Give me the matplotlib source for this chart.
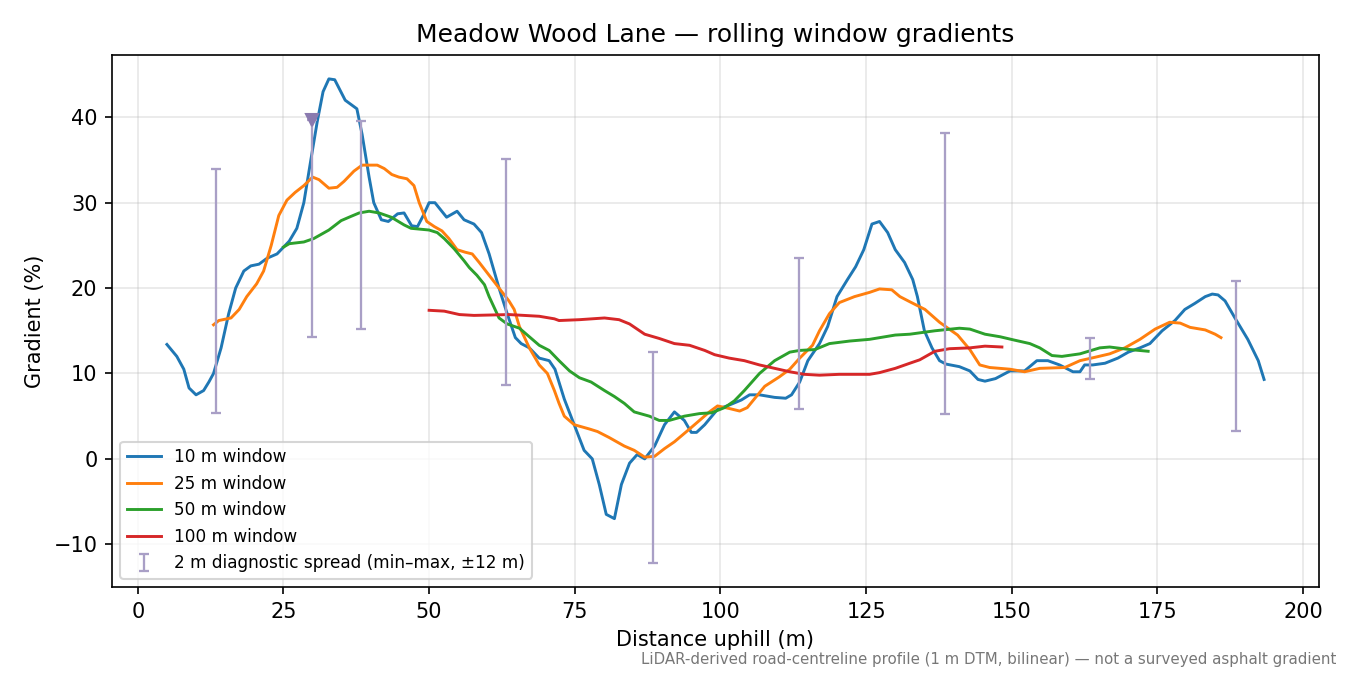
import numpy as np
import matplotlib
matplotlib.use("Agg")
import matplotlib.pyplot as plt

# 10 m window
x10 = [5, 6.7, 7.9, 8.8, 10, 11.3, 12.2, 13, 14.3, 15.6, 16.8, 18.2, 19.4, 20.8, 22.2, 23.9,
       26, 27.3, 28.5, 29.7, 30.8, 31.8, 32.8, 33.8, 35.6, 37.6, 38.5, 39.7, 40.5, 41.8, 43,
       44.6, 45.7, 47, 48, 49, 50, 51, 53, 54.8, 56, 57.7, 59, 60.3, 62, 63.4, 64.8, 65.8,
       67.2, 68.9, 70.6, 71.6, 73.2, 74.9, 76.6, 78, 79.2, 80.4, 81.8, 83, 84.4, 85.7, 87,
       88.7, 90.4, 92.1, 93.8, 95, 95.9, 97.3, 99.5, 101.5, 103.6, 105, 106.7, 109.3, 111.2,
       112.2, 113.6, 115, 117, 118.4, 120, 121.8, 123.2, 124.6, 126, 127.3, 128.7, 130,
       131.6, 133, 133.8, 135, 136.3, 137.6, 138.7, 141, 142.8, 144.2, 145.4, 147.2, 149.7,
       152.2, 154.3, 156.2, 158.2, 160.5, 161.7, 162.5, 163.9, 166, 168.2, 170, 172, 173.7,
       175.8, 178, 179.7, 181.4, 183.2, 184.4, 185.4, 186.6, 188.3, 190.5, 192.3, 193.3]
g10 = [13.4, 12, 10.5, 8.3, 7.5, 8.0, 9.0, 10, 13, 17, 20, 22, 22.6, 22.8, 23.5, 24,
       25.5, 27, 30, 35, 39.5, 43, 44.5, 44.4, 42, 41, 38, 33, 30, 28, 27.8,
       28.7, 28.8, 27.3, 27.2, 28.5, 30, 30, 28.3, 29, 28, 27.5, 26.5, 24, 20, 17, 14.2, 13.5,
       13, 11.8, 11.5, 10.5, 7, 4, 1, 0, -3, -6.5, -7, -3, -0.5, 0.5, 0,
       1.5, 4, 5.5, 4.5, 3.1, 3.1, 4, 5.8, 6.3, 6.9, 7.5, 7.5, 7.2, 7.1,
       7.5, 9, 11.5, 13.5, 15.5, 19, 21, 22.5, 24.5, 27.5, 27.8, 26.5, 24.5,
       23, 21, 19, 15, 13, 11.5, 11.1, 10.8, 10.3, 9.3, 9.1, 9.4, 10.3,
       10.3, 11.5, 11.5, 11.0, 10.2, 10.2, 11, 11, 11.2, 11.8, 12.5, 13, 13.5,
       15, 16.2, 17.5, 18.2, 19, 19.3, 19.2, 18.5, 16.5, 14, 11.5, 9.3]

# 25 m window
x25 = [13, 13.9, 16, 17.4, 18.7, 20.4, 21.6, 22.9, 24.2, 25.6, 27, 28.5, 30, 31.1, 32.8,
       34.2, 35.4, 37.1, 38.5, 41.1, 42.3, 43.6, 44.8, 46.2, 47.4, 48.3, 49.6, 50.9, 52.2,
       53.4, 54.8, 56.2, 57.4, 58.6, 60.3, 62, 63.7, 64.6, 65.5, 67.2, 68.9, 70.3, 71.5,
       72.3, 73.2, 74.9, 77.5, 78.9, 80.9, 83.5, 85.2, 87, 88.7, 90.4, 92.1, 94.7, 96.4,
       98.1, 99.5, 101.5, 103.3, 104.6, 106.4, 107.6, 110.1, 111.9, 113.6, 115.8, 117,
       118.7, 120.4, 123, 125.6, 127.3, 129.4, 130.8, 132.5, 135.1, 137.6, 140.7, 142.8,
       144.5, 146.2, 149.7, 152.2, 154.8, 159.1, 161.7, 164.3, 166.8, 169.4, 172, 174.6,
       177.1, 178.9, 180.6, 183.2, 184.9, 185.9]
g25 = [15.7, 16.2, 16.5, 17.5, 19, 20.5, 22, 25, 28.5, 30.3, 31.2, 32, 33, 32.7, 31.7,
       31.8, 32.5, 33.7, 34.4, 34.4, 34, 33.3, 33.0, 32.8, 32, 30, 27.8, 27.2, 26.7,
       25.8, 24.5, 24.2, 24.0, 23, 21.5, 20, 18.5, 17.5, 15.5, 13, 11, 10, 8,
       6.5, 5, 4, 3.5, 3.2, 2.5, 1.5, 1.0, 0.2, 0.3, 1.2, 2.0, 3.5, 4.5,
       5.5, 6.2, 5.9, 5.6, 6.0, 7.5, 8.5, 9.6, 10.5, 11.8, 13.3, 15,
       17, 18.3, 19, 19.5, 19.9, 19.8, 19.0, 18.4, 17.5, 16, 14.5, 12.8,
       11, 10.7, 10.5, 10.2, 10.6, 10.7, 11.5, 11.9, 12.3, 13, 14, 15.2,
       16, 15.9, 15.4, 15.1, 14.6, 14.2]

# 50 m window
x50 = [25, 26, 28.5, 30.2, 32.8, 34.9, 36.6, 38, 39.7, 41.4, 43.5, 45.7, 46.9, 50, 51.4,
       52.6, 54.3, 56, 56.9, 58.2, 59.5, 60.3, 62, 63.4, 65.5, 67.2, 68.9, 70.6, 72.3,
       74.1, 75.8, 77.8, 80.1, 81.8, 83.5, 85.2, 87.8, 89.5, 91.2, 93.8, 96.4, 98.5,
       100.7, 102.4, 104.1, 106.7, 109.3, 111.9, 113.6, 116.2, 118.7, 122.2, 125.6, 130,
       132.5, 136.8, 141, 142.8, 145.4, 148, 150.5, 153.1, 154.8, 156.9, 158.6, 161.7,
       165.1, 166.8, 170.3, 173.4]
g50 = [24.8, 25.2, 25.4, 25.8, 26.8, 27.9, 28.4, 28.8, 29.0, 28.8, 28.3, 27.4, 27.0, 26.8, 26.5,
       25.8, 24.6, 23.2, 22.4, 21.5, 20.4, 19, 16.5, 15.8, 15.3, 14.3, 13.3, 12.7, 11.5,
       10.3, 9.5, 9.0, 8.0, 7.3, 6.5, 5.5, 5.0, 4.5, 4.5, 5.0, 5.3, 5.4,
       6.0, 6.8, 8.0, 10.0, 11.5, 12.5, 12.7, 12.8, 13.5, 13.8, 14.0, 14.5,
       14.6, 15.0, 15.3, 15.2, 14.6, 14.3, 13.9, 13.5, 13.0, 12.1, 12.0, 12.3,
       13.0, 13.1, 12.8, 12.6]

# 100 m window
x100 = [50, 52.6, 55.2, 57.7, 63.7, 68.9, 71.5, 72.3, 75.8, 80.1, 82.6, 84.4, 87, 89.5,
        92.1, 94.7, 97.3, 99, 101.5, 104.1, 106.7, 109.3, 111.9, 114.4, 117, 120.4, 125.6,
        127.3, 130, 132.5, 134.2, 136.8, 139.3, 142.8, 145.4, 148.3]
g100 = [17.4, 17.3, 16.9, 16.8, 16.9, 16.7, 16.4, 16.2, 16.3, 16.5, 16.3, 15.8, 14.6, 14.1,
        13.5, 13.3, 12.7, 12.2, 11.8, 11.5, 11.0, 10.6, 10.2, 9.9, 9.8, 9.9, 9.9,
        10.1, 10.6, 11.2, 11.6, 12.6, 12.9, 13.0, 13.2, 13.1]

# 2 m diagnostic spread (min-max)
spread_x = [13.4, 29.9, 38.3, 63.2, 88.5, 113.5, 138.5, 163.5, 188.5]
spread_lo = [5.4, 14.3, 15.2, 8.6, -12.2, 5.8, 5.2, 9.4, 3.3]
spread_hi = [34.0, 39.7, 39.6, 35.1, 12.5, 23.5, 38.2, 14.1, 20.8]
flag_x = [29.9]
flag_y = [39.7]

fig, ax = plt.subplots(figsize=(9, 4.5), dpi=150)
fig.subplots_adjust(left=0.083, right=0.977, top=0.919, bottom=0.130)

ax.plot(x10, g10, color="#1f77b4", lw=1.4, label="10 m window")
ax.plot(x25, g25, color="#ff7f0e", lw=1.4, label="25 m window")
ax.plot(x50, g50, color="#2ca02c", lw=1.4, label="50 m window")
ax.plot(x100, g100, color="#d62728", lw=1.4, label="100 m window")

mid = (np.array(spread_hi) + np.array(spread_lo)) / 2
err = (np.array(spread_hi) - np.array(spread_lo)) / 2
ax.errorbar(spread_x, mid, yerr=err, fmt="none", ecolor="#a99fc6", elinewidth=1.1,
            capsize=2.5, capthick=1.1, label="2 m diagnostic spread (min\u2013max, \u00b112 m)")
ax.plot(flag_x, flag_y, marker="v", ls="none", color="#8a7aaf", ms=6)

ax.grid(True, alpha=0.3)
ax.set_xticks([0, 25, 50, 75, 100, 125, 150, 175, 200])
ax.set_xlabel("Distance uphill (m)")
ax.set_ylabel("Gradient (%)")
ax.set_title("Meadow Wood Lane \u2014 rolling window gradients")
ax.legend(loc="lower left", fontsize=8.1)

fig.text(0.99, 0.012, "LiDAR-derived road-centreline profile (1 m DTM, bilinear) \u2014 not a surveyed asphalt gradient",
         ha="right", va="bottom", fontsize=7.2, color="#777777")

fig.savefig("out.png", dpi=150)
